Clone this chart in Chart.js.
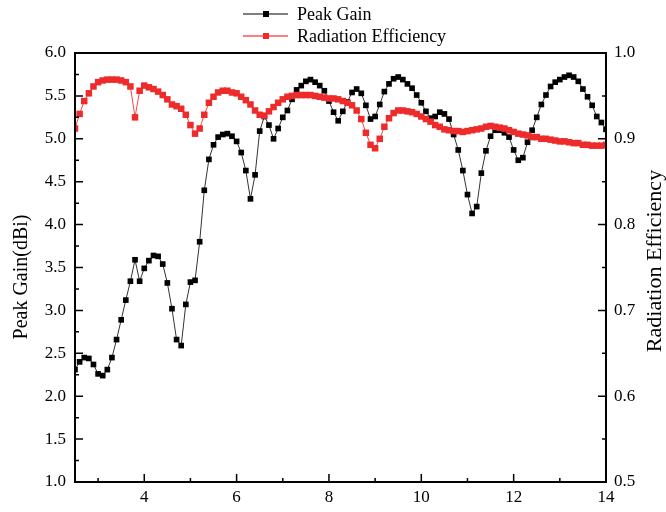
<!DOCTYPE html>
<html>
<head>
<meta charset="utf-8">
<script src="https://cdn.jsdelivr.net/npm/chart.js@4"></script>
<style>
  html, body { margin: 0; padding: 0; background: #fff; }
  #chart { display: block; }
</style>
</head>
<body>
<canvas id="chart" width="666" height="512"></canvas>
<script>
var freq = [
  2.5, 2.6, 2.7, 2.8, 2.9, 3.0, 3.1, 3.2, 3.3, 3.4,
  3.5, 3.6, 3.7, 3.8, 3.9, 4.0, 4.1, 4.2, 4.3, 4.4,
  4.5, 4.6, 4.7, 4.8, 4.9, 5.0, 5.1, 5.2, 5.3, 5.4,
  5.5, 5.6, 5.7, 5.8, 5.9, 6.0, 6.1, 6.2, 6.3, 6.4,
  6.5, 6.6, 6.7, 6.8, 6.9, 7.0, 7.1, 7.2, 7.3, 7.4,
  7.5, 7.6, 7.7, 7.8, 7.9, 8.0, 8.1, 8.2, 8.3, 8.4,
  8.5, 8.6, 8.7, 8.8, 8.9, 9.0, 9.1, 9.2, 9.3, 9.4,
  9.5, 9.6, 9.7, 9.8, 9.9, 10.0, 10.1, 10.2, 10.3, 10.4,
  10.5, 10.6, 10.7, 10.8, 10.9, 11.0, 11.1, 11.2, 11.3, 11.4,
  11.5, 11.6, 11.7, 11.8, 11.9, 12.0, 12.1, 12.2, 12.3, 12.4,
  12.5, 12.6, 12.7, 12.8, 12.9, 13.0, 13.1, 13.2, 13.3, 13.4,
  13.5, 13.6, 13.7, 13.8, 13.9, 14.0
];

// Peak gain, dBi
var peakGain = [
  2.31, 2.40, 2.45, 2.44, 2.37, 2.26, 2.24, 2.31, 2.45, 2.66,
  2.89, 3.12, 3.34, 3.59, 3.34, 3.49, 3.58, 3.64, 3.63, 3.54,
  3.32, 3.02, 2.66, 2.59, 3.07, 3.33, 3.35, 3.80, 4.40, 4.76,
  4.93, 5.02, 5.05, 5.06, 5.03, 4.97, 4.84, 4.63, 4.30, 4.58,
  5.09, 5.26, 5.16, 5.00, 5.12, 5.25, 5.33, 5.46, 5.57, 5.62,
  5.67, 5.69, 5.66, 5.62, 5.56, 5.44, 5.31, 5.21, 5.32, 5.43,
  5.54, 5.58, 5.53, 5.39, 5.23, 5.26, 5.40, 5.55, 5.64, 5.70,
  5.72, 5.69, 5.64, 5.59, 5.51, 5.42, 5.32, 5.24, 5.26, 5.31,
  5.29, 5.23, 5.05, 4.87, 4.63, 4.35, 4.13, 4.21, 4.60, 4.86,
  5.03, 5.10, 5.10, 5.07, 5.02, 4.87, 4.75, 4.78, 4.96, 5.10,
  5.25, 5.40, 5.51, 5.61, 5.66, 5.69, 5.72, 5.74, 5.72, 5.67,
  5.58, 5.49, 5.39, 5.26, 5.19, 5.11
];

// Radiation efficiency, 0..1
var radEff = [
  0.912, 0.929, 0.944, 0.953, 0.961, 0.966, 0.968, 0.969, 0.969, 0.969,
  0.968, 0.966, 0.961, 0.925, 0.956, 0.962, 0.960, 0.958, 0.955, 0.951,
  0.946, 0.940, 0.938, 0.935, 0.928, 0.916, 0.906, 0.912, 0.928, 0.942,
  0.949, 0.954, 0.956, 0.956, 0.954, 0.953, 0.949, 0.945, 0.940, 0.933,
  0.928, 0.927, 0.932, 0.937, 0.942, 0.946, 0.949, 0.950, 0.951, 0.951,
  0.951, 0.951, 0.950, 0.949, 0.948, 0.947, 0.947, 0.946, 0.944, 0.942,
  0.939, 0.933, 0.923, 0.907, 0.893, 0.889, 0.900, 0.914, 0.924, 0.930,
  0.933, 0.933, 0.932, 0.931, 0.929, 0.926, 0.923, 0.920, 0.916, 0.914,
  0.911, 0.910, 0.909, 0.909, 0.908, 0.909, 0.910, 0.911, 0.912, 0.914,
  0.915, 0.914, 0.913, 0.912, 0.910, 0.908, 0.906, 0.905, 0.904, 0.902,
  0.902, 0.900, 0.900, 0.899, 0.898, 0.897, 0.897, 0.896, 0.895, 0.895,
  0.893, 0.893, 0.892, 0.892, 0.892, 0.893
];

var xTicks = [4, 6, 8, 10, 12, 14];
var xMinor = [3, 5, 7, 9, 11, 13];
var gainTicks = [1.0, 1.5, 2.0, 2.5, 3.0, 3.5, 4.0, 4.5, 5.0, 5.5, 6.0];
var gainMinor = [1.25, 1.75, 2.25, 2.75, 3.25, 3.75, 4.25, 4.75, 5.25, 5.75];
var effTicks = [0.5, 0.6, 0.7, 0.8, 0.9, 1.0];
var effMinor = [0.55, 0.65, 0.75, 0.85, 0.95];

var seriesNames = ["Peak Gain", "Radiation Efficiency"];
var FONT = "'Liberation Serif', 'Times New Roman', serif";
var RED = "#ee2b2b";

function setTicks(list) {
  return function (scale) {
    scale.ticks = list.map(function (v) { return { value: v }; });
  };
}

// box frame, inward tick marks, axis titles and the legend
var decorations = {
  id: "decorations",
  afterDraw: function (chart) {
    var ctx = chart.ctx, a = chart.chartArea;
    var sx = chart.scales.x, sl = chart.scales.y, sr = chart.scales.y1;
    ctx.save();
    ctx.strokeStyle = "#000";
    ctx.lineWidth = 1.5;
    ctx.beginPath();
    function tickX(list, len) {
      list.forEach(function (v) {
        var p = sx.getPixelForValue(v);
        ctx.moveTo(p, a.bottom); ctx.lineTo(p, a.bottom - len);
      });
    }
    function tickY(scale, list, len) {
      list.forEach(function (v) {
        var p = scale.getPixelForValue(v);
        if (scale === sl) { ctx.moveTo(a.left, p); ctx.lineTo(a.left + len, p); }
        else { ctx.moveTo(a.right, p); ctx.lineTo(a.right - len, p); }
      });
    }
    tickX(xTicks, 8); tickX(xMinor, 4);
    tickY(sl, gainTicks, 8); tickY(sl, gainMinor, 4);
    tickY(sr, effTicks, 8); tickY(sr, effMinor, 4);
    ctx.stroke();

    ctx.lineWidth = 2;
    ctx.strokeRect(a.left, a.top, a.right - a.left, a.bottom - a.top);

    // axis titles, both read bottom to top
    ctx.fillStyle = "#000";
    ctx.textAlign = "center";
    ctx.textBaseline = "middle";
    ctx.font = "20px " + FONT;
    ctx.save();
    ctx.translate(22, 277);
    ctx.rotate(-Math.PI / 2);
    ctx.fillText("Peak Gain(dBi)", 0, 0);
    ctx.restore();
    ctx.font = "22px " + FONT;
    ctx.save();
    ctx.translate(655, 261);
    ctx.rotate(-Math.PI / 2);
    ctx.fillText("Radiation Efficiency", 0, 0);
    ctx.restore();

    // legend
    ctx.font = "18px " + FONT;
    ctx.textAlign = "left";
    var rows = [
      { y: 14, line: "#555", mark: "#000" },
      { y: 36, line: "#f55", mark: RED }
    ];
    rows.forEach(function (r, i) {
      ctx.strokeStyle = r.line;
      ctx.lineWidth = 1.5;
      ctx.beginPath();
      ctx.moveTo(243, r.y); ctx.lineTo(288, r.y);
      ctx.stroke();
      ctx.fillStyle = r.mark;
      ctx.fillRect(263, r.y - 3, 6, 6);
      ctx.fillStyle = "#000";
      ctx.fillText(seriesNames[i], 297, r.y + 1);
    });
    ctx.restore();
  }
};

var xy = function (ys) {
  return freq.map(function (f, i) { return { x: f, y: ys[i] }; });
};

new Chart(document.getElementById("chart"), {
  type: "line",
  data: {
    datasets: [{
      label: seriesNames[0],
      data: xy(peakGain),
      yAxisID: "y",
      borderColor: "#333",
      borderWidth: 1,
      pointStyle: "rect",
      pointRadius: 4,
      pointBorderWidth: 0,
      pointBackgroundColor: "#000",
      order: 2
    }, {
      label: seriesNames[1],
      data: xy(radEff),
      yAxisID: "y1",
      borderColor: "#f44",
      borderWidth: 1,
      pointStyle: "rect",
      pointRadius: 4.6,
      pointBorderWidth: 0,
      pointBackgroundColor: RED,
      order: 1
    }]
  },
  options: {
    responsive: false,
    animation: false,
    devicePixelRatio: 1,
    layout: { padding: { top: 53, left: 0, right: 0, bottom: 0 } },
    plugins: {
      legend: { display: false },
      tooltip: { enabled: false }
    },
    scales: {
      x: {
        type: "linear",
        min: 2.5,
        max: 14,
        afterBuildTicks: setTicks(xTicks),
        afterFit: function (s) { s.height = 30; },
        grid: { display: false, drawTicks: false },
        border: { display: false },
        ticks: { color: "#000", padding: 5, maxRotation: 0, font: { family: FONT, size: 17 } }
      },
      y: {
        position: "left",
        min: 1,
        max: 6,
        afterBuildTicks: setTicks(gainTicks),
        afterFit: function (s) { s.width = 75; },
        grid: { display: false, drawTicks: false },
        border: { display: false },
        ticks: {
          color: "#000", padding: 9, font: { family: FONT, size: 17 },
          callback: function (v) { return v.toFixed(1); }
        }
      },
      y1: {
        position: "right",
        min: 0.5,
        max: 1.0,
        afterBuildTicks: setTicks(effTicks),
        afterFit: function (s) { s.width = 60; },
        grid: { display: false, drawTicks: false },
        border: { display: false },
        ticks: {
          color: "#000", padding: 8, font: { family: FONT, size: 17 },
          callback: function (v) { return v.toFixed(1); }
        }
      }
    }
  },
  plugins: [decorations]
});
</script>
</body>
</html>
